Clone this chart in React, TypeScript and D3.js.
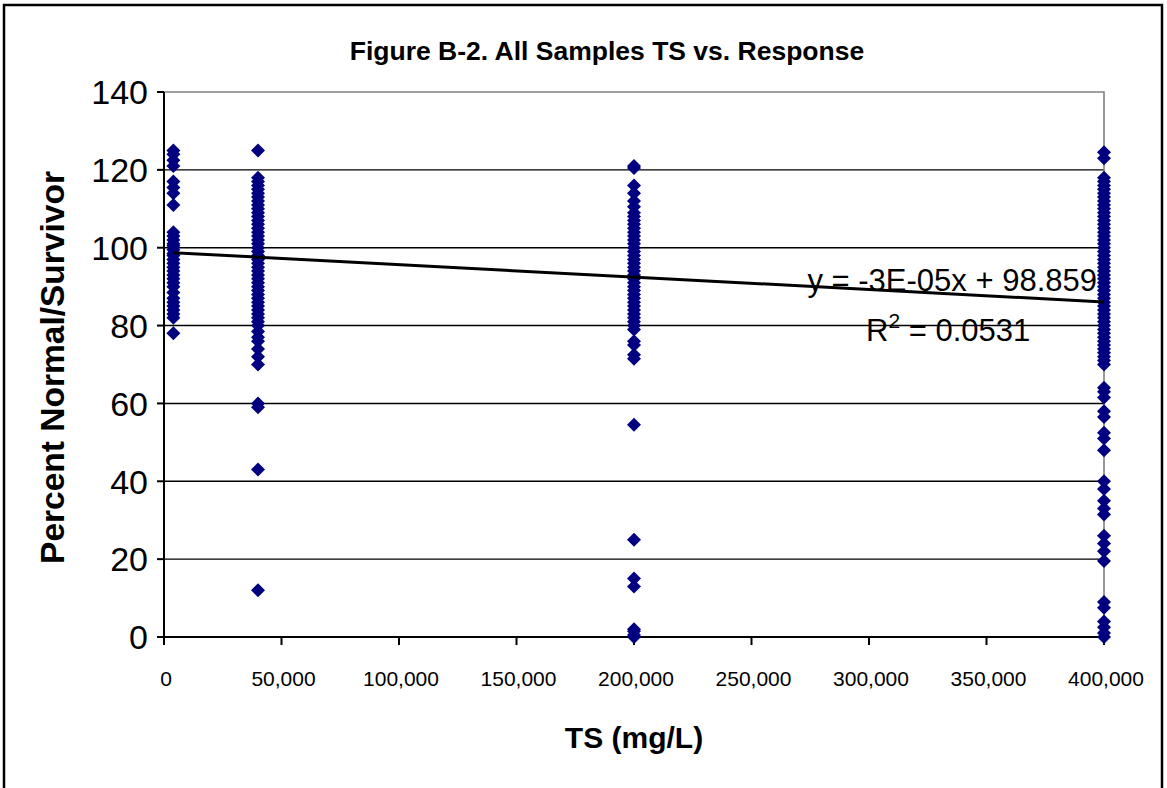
import React from "react";
import * as d3 from "d3";

// Chart data
const doseLevels = [4000, 40000, 200000, 400000];

const responseLow = [125, 124, 122.5, 121, 117, 115.5, 114, 111, 104, 103, 102, 101, 100.5, 99.5, 98.5, 98,
  97, 96, 95, 94, 93, 92, 91, 90, 88.5, 87, 86, 85, 84, 83, 82, 78];

const response40k = [125, 118, 117, 116, 115, 114, 113, 112, 111, 110, 109, 108, 107, 106, 105, 104, 103,
  102, 101, 100, 99, 98, 97, 96, 95, 94, 93, 92, 91, 90, 89, 88, 87, 86, 85, 84, 83, 82, 81, 80, 78.5, 77,
  76, 74, 72, 70, 60, 59, 43, 12];

const response200k = [121, 120.5, 116, 114, 112, 110.5, 109, 108, 107, 106, 105, 104, 103, 102, 101, 100,
  99, 98, 97, 96, 95, 94, 93, 92, 91, 90, 89, 88, 87, 86, 85, 84, 83, 82, 81, 80, 79, 76, 75, 72.5, 71.5,
  54.5, 25, 15, 13, 2, 1.5, 0.5, 0];

const response400k = [124.5, 123, 118, 117, 116, 115, 114, 113, 112, 111, 110, 109, 108, 107, 106, 105,
  104, 103, 102, 101, 100, 99, 98, 97, 96, 95, 94, 93, 92, 91, 90, 89, 88, 87, 86, 85, 84, 83, 82, 81, 80,
  79, 78, 77, 76, 75, 74, 73, 72, 71, 70, 64, 63, 61.5, 58, 56.5, 52.5, 51, 48, 40, 38, 35, 33, 31.5, 26,
  24, 22, 19.5, 9, 7.5, 4, 2.5, 1, 0];

const responses = [responseLow, response40k, response200k, response400k];

const yTicks = [0, 20, 40, 60, 80, 100, 120, 140];
const xTicks = [0, 50000, 100000, 150000, 200000, 250000, 300000, 350000, 400000];

// trendline as reported on the chart
const slope = -3.2e-5;
const intercept = 98.859;

const W = 1167;
const H = 788;
const margin = { top: 92, right: 63, bottom: 151, left: 164 };

const App = () => {
  const x = d3.scaleLinear().domain([0, 400000]).range([margin.left, W - margin.right]);
  const y = d3.scaleLinear().domain([0, 140]).range([H - margin.bottom, margin.top]);

  const points = doseLevels.flatMap((d, i) => responses[i].map((v) => ({ x: d, y: v })));
  const fmt = d3.format(",");
  const diamond = "M0,-7L7,0L0,7L-7,0Z";
  const x0 = x(0), x1 = x(400000), y0 = y(0), y1 = y(140);

  const trend = d3.line<number>()
    .x((d) => x(d))
    .y((d) => y(intercept + slope * d));

  return (
    <svg width={W} height={H} style={{ position: "absolute", left: 0, top: 0, background: "#fff" }}
      fontFamily="Liberation Sans, Arial, sans-serif">
      <rect x={4} y={5} width={1158} height={820} fill="#fff" stroke="#000" strokeWidth={2.5} />

      {/* gridlines */}
      {yTicks.filter((t) => t > 0 && t < 140).map((t) => (
        <line key={t} x1={x0} x2={x1} y1={y(t)} y2={y(t)} stroke="#000" strokeWidth={1.4} />
      ))}
      {/* plot border top/right */}
      <path d={`M${x0},${y1}H${x1}V${y0}`} fill="none" stroke="#808080" strokeWidth={1.6} />

      {/* axes */}
      <line x1={x0} x2={x0} y1={y1} y2={y0 + 8} stroke="#000" strokeWidth={2} />
      <line x1={x0} x2={x1} y1={y0} y2={y0} stroke="#000" strokeWidth={2} />
      {yTicks.map((t) => (
        <g key={t}>
          <line x1={x0 - 7} x2={x0} y1={y(t)} y2={y(t)} stroke="#000" strokeWidth={2} />
          <text x={148} y={y(t)} dy="0.36em" textAnchor="end" fontSize={34}>{t}</text>
        </g>
      ))}
      {xTicks.map((t) => (
        <g key={t}>
          <line x1={x(t)} x2={x(t)} y1={y0} y2={y0 + 8} stroke="#000" strokeWidth={2} />
          <text x={x(t) + 2} y={686} textAnchor="middle" fontSize={21}>{fmt(t)}</text>
        </g>
      ))}

      {/* points */}
      {points.map((p, i) => (
        <path key={i} d={diamond} transform={`translate(${x(p.x)},${y(p.y)})`} fill="#000080" />
      ))}

      {/* trendline */}
      <path d={trend([doseLevels[0], 400000]) ?? ""} fill="none" stroke="#000" strokeWidth={3} />

      {/* labels */}
      <text x={607} y={60} textAnchor="middle" fontSize={26.5} fontWeight="bold">
        Figure B-2. All Samples TS vs. Response
      </text>
      <text transform={`translate(64,${(y0 + y1) / 2 + 3}) rotate(-90)`} textAnchor="middle" fontSize={33.5}
        fontWeight="bold">Percent Normal/Survivor</text>
      <text x={634} y={748} textAnchor="middle" fontSize={30} fontWeight="bold">TS (mg/L)</text>

      <text x={1097} y={291} textAnchor="end" fontSize={31}>y = -3E-05x + 98.859</text>
      <text x={866} y={341} fontSize={31}>
        R<tspan dy={-13} fontSize={21}>2</tspan><tspan dy={13}> = 0.0531</tspan>
      </text>
    </svg>
  );
};

export default App;
